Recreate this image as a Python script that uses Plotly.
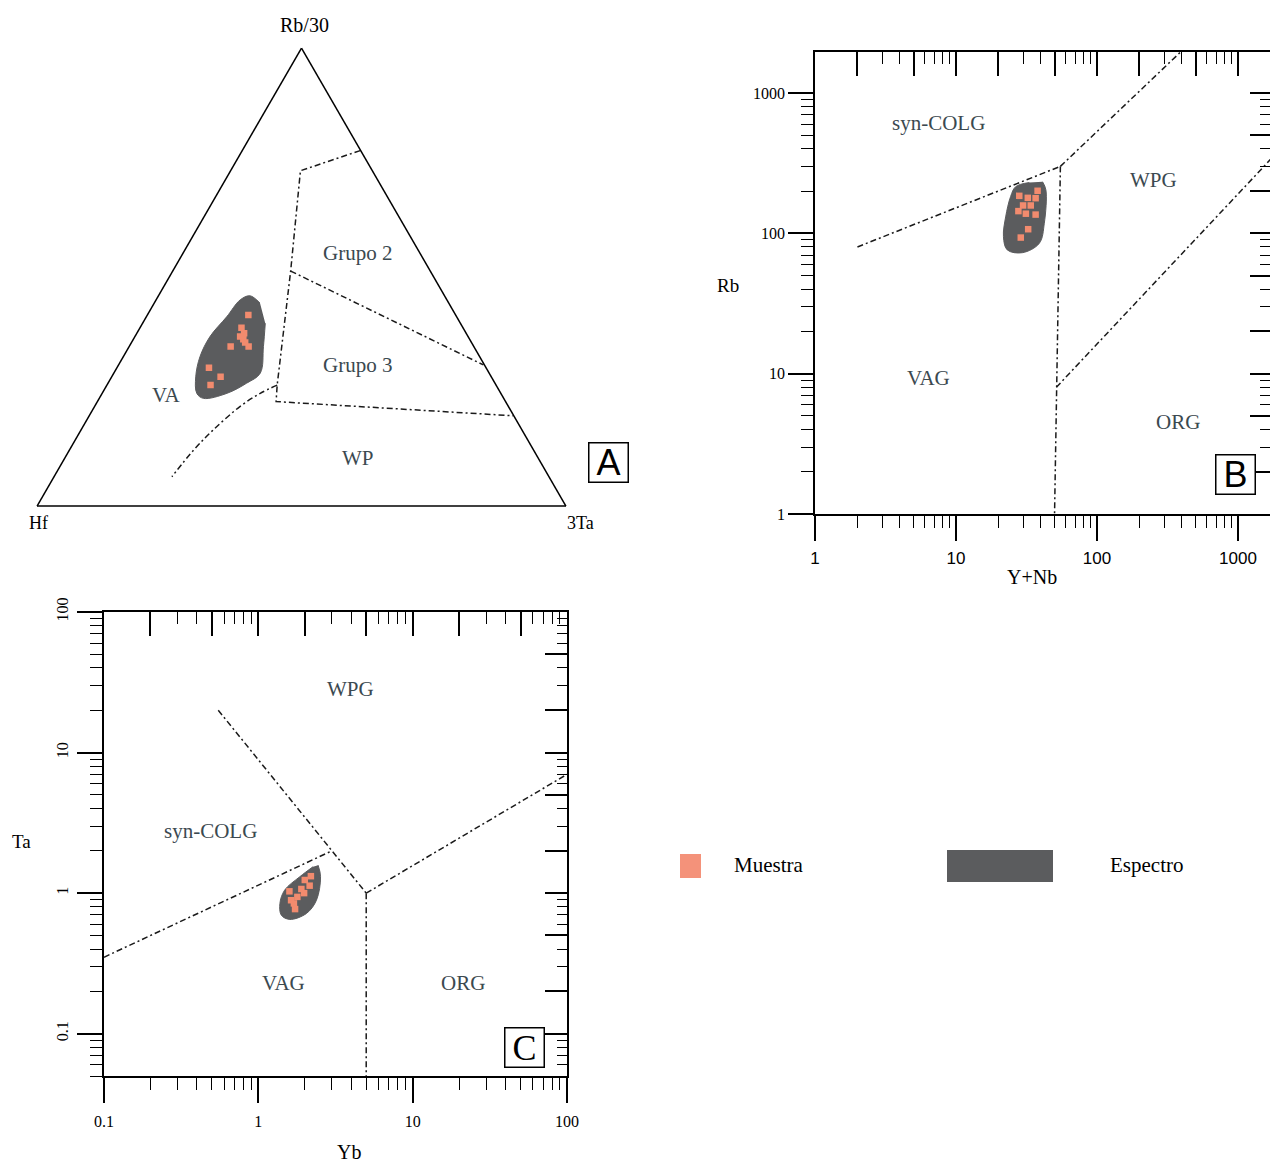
import plotly.graph_objects as go

W, H = 1270, 1162
def fx(p): return p / W
def fy(p): return 1 - p / H

# ---------------- Panel A (ternary: a = Rb/30, b = Hf, c = 3Ta) ----------------
A_line1_a = [0.776, 0.732, 0.513, 0.264, 0.228, 0.197]
A_line1_b = [0.001, 0.136, 0.264, 0.414, 0.434, 0.001]
A_line1_c = [0.223, 0.132, 0.223, 0.322, 0.338, 0.802]
A_line2_a = [0.513, 0.308]
A_line2_b = [0.264, 0.002]
A_line2_c = [0.223, 0.690]
A_line3_a = [0.264, 0.246, 0.217, 0.166, 0.122, 0.064]
A_line3_b = [0.414, 0.455, 0.508, 0.584, 0.643, 0.713]
A_line3_c = [0.322, 0.299, 0.275, 0.250, 0.235, 0.223]

A_blob_a = [0.399, 0.348, 0.290, 0.268, 0.246, 0.235, 0.246, 0.282, 0.326, 0.370, 0.413, 0.450, 0.459, 0.443]
A_blob_c = [0.232, 0.254, 0.277, 0.262, 0.236, 0.197, 0.179, 0.159, 0.145, 0.142, 0.152, 0.159, 0.173, 0.200]
A_blob_b = [round(1 - a - c, 3) for a, c in zip(A_blob_a, A_blob_c)]

A_pts_a = [0.417, 0.389, 0.377, 0.370, 0.364, 0.357, 0.348, 0.348, 0.302, 0.282, 0.264]
A_pts_c = [0.191, 0.192, 0.203, 0.199, 0.208, 0.215, 0.226, 0.192, 0.174, 0.206, 0.196]
A_pts_b = [round(1 - a - c, 3) for a, c in zip(A_pts_a, A_pts_c)]

# ---------------- Panel B (Rb vs Y+Nb) ----------------
B_syncolg_vag_x = [2, 55]
B_syncolg_vag_y = [80, 300]
B_wpg_syncolg_x = [55, 400]
B_wpg_syncolg_y = [300, 2000]
B_vertical_x = [55, 51.5, 50]
B_vertical_y = [300, 8, 1]
B_wpg_org_x = [51.5, 2000]
B_wpg_org_y = [8, 400]

B_blob_x = [41.1, 43.4, 42.3, 39.0, 29.6, 23.1, 21.7, 22.5, 24.4, 26.5, 33.1]
B_blob_y = [233, 204, 118, 85, 72.8, 76.2, 94.7, 131, 183, 215, 230]
B_pts_x = [28.1, 32.3, 37.9, 36.7, 29.9, 33.9, 27.7, 31.3, 36.7, 32.5, 28.8]
B_pts_y = [185, 179, 201, 178, 158, 158, 144, 138, 136, 107, 93.3]

# ---------------- Panel C (Ta vs Yb) ----------------
C_syncolg_vag_x = [0.1, 3]
C_syncolg_vag_y = [0.35, 2]
C_wpg_syncolg_x = [0.55, 3, 5]
C_wpg_syncolg_y = [20, 2, 1]
C_vag_org_x = [5, 5]
C_vag_org_y = [1, 0.05]
C_wpg_org_x = [5, 100]
C_wpg_org_y = [1, 7]

C_blob_x = [2.44, 2.53, 2.38, 2.05, 1.60, 1.41, 1.38, 1.48, 1.86, 2.26]
C_blob_y = [1.58, 1.31, 0.89, 0.717, 0.65, 0.697, 0.845, 1.05, 1.31, 1.54]
C_pts_x = [2.19, 2.00, 2.15, 1.90, 1.98, 1.59, 1.79, 1.63, 1.70, 1.73]
C_pts_y = [1.32, 1.24, 1.13, 1.07, 1.0, 1.03, 0.94, 0.89, 0.845, 0.77]

B_ticks = [1, 10, 100, 1000]
C_xticks = [0.1, 1, 10, 100]
C_yticks = [0.1, 1, 10, 100]

# ---------------- styles ----------------
SERIF = "Liberation Serif"
SANS = "Liberation Sans"
LABEL_COLOR = "#3b4950"
BLOB_COLOR = "#5b5c5e"
PT_COLOR = "#f28b6e"
DASH = dict(color="#1a1a1a", width=1.5, dash="6px,3px,2px,3px")
minor_vals = [d * 10 ** e for e in range(-2, 4) for d in range(2, 10)]

fig = go.Figure()

# --- ternary traces
for a, b, c in [(A_line1_a, A_line1_b, A_line1_c), (A_line2_a, A_line2_b, A_line2_c)]:
    fig.add_trace(go.Scatterternary(a=a, b=b, c=c, mode="lines", line=DASH,
                                    showlegend=False, hoverinfo="skip"))
fig.add_trace(go.Scatterternary(a=A_line3_a, b=A_line3_b, c=A_line3_c, mode="lines",
                                line=dict(DASH, shape="spline"), showlegend=False, hoverinfo="skip"))
fig.add_trace(go.Scatterternary(a=A_blob_a, b=A_blob_b, c=A_blob_c, mode="lines", fill="toself",
                                fillcolor=BLOB_COLOR, line=dict(color=BLOB_COLOR, width=1, shape="spline", smoothing=1),
                                showlegend=False, hoverinfo="skip"))
fig.add_trace(go.Scatterternary(a=A_pts_a, b=A_pts_b, c=A_pts_c, mode="markers",
                                marker=dict(symbol="square", size=6.5, color=PT_COLOR),
                                showlegend=False))

# --- panel B traces
for xs, ys in [(B_syncolg_vag_x, B_syncolg_vag_y), (B_wpg_syncolg_x, B_wpg_syncolg_y),
               (B_vertical_x, B_vertical_y), (B_wpg_org_x, B_wpg_org_y)]:
    fig.add_trace(go.Scatter(x=xs, y=ys, mode="lines", line=DASH, xaxis="x", yaxis="y",
                             showlegend=False, hoverinfo="skip"))
fig.add_trace(go.Scatter(x=B_blob_x, y=B_blob_y, mode="lines", fill="toself", fillcolor=BLOB_COLOR,
                         line=dict(color=BLOB_COLOR, width=1, shape="spline", smoothing=1),
                         xaxis="x", yaxis="y", showlegend=False, hoverinfo="skip"))
fig.add_trace(go.Scatter(x=B_pts_x, y=B_pts_y, mode="markers",
                         marker=dict(symbol="square", size=6.5, color=PT_COLOR),
                         xaxis="x", yaxis="y", showlegend=False))
fig.add_trace(go.Scatter(x=[10], y=[10], mode="markers", marker=dict(opacity=0), xaxis="x2", yaxis="y2",
                         showlegend=False, hoverinfo="skip"))

# --- panel C traces
for xs, ys in [(C_syncolg_vag_x, C_syncolg_vag_y), (C_wpg_syncolg_x, C_wpg_syncolg_y),
               (C_vag_org_x, C_vag_org_y), (C_wpg_org_x, C_wpg_org_y)]:
    fig.add_trace(go.Scatter(x=xs, y=ys, mode="lines", line=DASH, xaxis="x3", yaxis="y3",
                             showlegend=False, hoverinfo="skip"))
fig.add_trace(go.Scatter(x=C_blob_x, y=C_blob_y, mode="lines", fill="toself", fillcolor=BLOB_COLOR,
                         line=dict(color=BLOB_COLOR, width=1, shape="spline", smoothing=1),
                         xaxis="x3", yaxis="y3", showlegend=False, hoverinfo="skip"))
fig.add_trace(go.Scatter(x=C_pts_x, y=C_pts_y, mode="markers",
                         marker=dict(symbol="square", size=6.5, color=PT_COLOR),
                         xaxis="x3", yaxis="y3", showlegend=False))
fig.add_trace(go.Scatter(x=[1], y=[1], mode="markers", marker=dict(opacity=0), xaxis="x4", yaxis="y4",
                         showlegend=False, hoverinfo="skip"))


def logaxis(rng, domain, anchor, ticks, major_len, minor_len, vals=None, text=None, show=True,
            font=None, side=None, overlaying=None, angle=None, standoff=None):
    d = dict(type="log", range=rng, domain=domain, anchor=anchor, showline=True, linecolor="black",
             linewidth=1.5, ticks=ticks, ticklen=major_len, tickwidth=1.5, tickcolor="black",
             showgrid=False, zeroline=False, fixedrange=True, automargin=False,
             minor=dict(ticks=ticks, ticklen=minor_len, tickwidth=1.2, tickcolor="black",
                        tickmode="array", tickvals=minor_vals, showgrid=False),
             showticklabels=show)
    if vals is not None:
        d.update(tickmode="array", tickvals=vals, ticktext=text)
    if font:
        d["tickfont"] = font
    if side:
        d["side"] = side
    if overlaying:
        d["overlaying"] = overlaying
    if angle is not None:
        d["tickangle"] = angle
    if standoff is not None:
        d["ticklabelstandoff"] = standoff
    return d


Bx_dom = [fx(815), 1.0]
By_dom = [fy(514), fy(52)]
Cx_dom = [fx(104), fx(567)]
Cy_dom = [fy(1076), fy(612)]
Bx_rng = [0, 3.0 * (1270 - 815) / (1238 - 815)]
By_rng = [0, 3.0 * (514 - 52) / (514 - 93)]

tern_axis = dict(showticklabels=False, ticks="", showgrid=False, linecolor="black", linewidth=1.5,
                 min=0, title=dict(text=""))

fig.update_layout(
    width=W, height=H, margin=dict(l=0, r=0, t=0, b=0, pad=0, autoexpand=False),
    paper_bgcolor="white", plot_bgcolor="white",
    ternary=dict(domain=dict(x=[fx(37), fx(566)], y=[fy(506), fy(48)]), bgcolor="white",
                 aaxis=tern_axis, baxis=tern_axis, caxis=tern_axis),
    xaxis=logaxis(Bx_rng, Bx_dom, "y", "outside", 25, 12, B_ticks, [str(v) for v in B_ticks],
                  font=dict(family=SANS, size=17, color="black"), standoff=3),
    yaxis=logaxis(By_rng, By_dom, "x", "outside", 25, 12, B_ticks, [str(v) for v in B_ticks],
                  font=dict(family=SERIF, size=16, color="black"), standoff=0),
    xaxis2=logaxis(Bx_rng, Bx_dom, "y", "inside", 24, 12, show=False, side="top", overlaying="x"),
    yaxis2=logaxis(By_rng, By_dom, "x", "inside", 20, 10, show=False, side="right", overlaying="y"),
    xaxis3=logaxis([-1, 2], Cx_dom, "y3", "outside", 25, 12, C_xticks, ["0.1", "1", "10", "100"],
                   font=dict(family=SERIF, size=16, color="black"), standoff=5),
    yaxis3=logaxis([-1.301, 2], Cy_dom, "x3", "outside", 25, 12, C_yticks, ["0.1", "1", "10", "100"],
                   font=dict(family=SERIF, size=16, color="black"), angle=-90, standoff=3),
    xaxis4=logaxis([-1, 2], Cx_dom, "y3", "inside", 24, 12, show=False, side="top", overlaying="x3"),
    yaxis4=logaxis([-1.301, 2], Cy_dom, "x3", "inside", 22, 10, show=False, side="right", overlaying="y3"),
)

ann = []
def txt(x, y, s, size=21, color=LABEL_COLOR, family=SERIF):
    ann.append(dict(x=fx(x), y=fy(y), xref="paper", yref="paper", text=s, showarrow=False,
                    font=dict(family=family, size=size, color=color), xanchor="center", yanchor="middle"))

# panel A labels
txt(304, 25, "Rb/30", 20, "black")
txt(38, 523, "Hf", 18, "black")
txt(580, 523, "3Ta", 18, "black")
txt(357, 253, "Grupo 2", 21)
txt(357, 365, "Grupo 3", 21)
txt(166, 395, "VA", 21)
txt(358, 458, "WP", 21)
# panel B labels
txt(728, 285, "Rb", 19, "black")
txt(1032, 577, "Y+Nb", 20, "black")
txt(938, 123, "syn-COLG", 21)
txt(1153, 180, "WPG", 21)
txt(928, 378, "VAG", 21)
txt(1178, 422, "ORG", 21)
# panel C labels
txt(21, 841, "Ta", 19, "black")
txt(349, 1152, "Yb", 20, "black")
txt(351, 689, "WPG", 21)
txt(210, 831, "syn-COLG", 21)
txt(283, 983, "VAG", 21)
txt(463, 983, "ORG", 21)
# legend text
txt(768, 865, "Muestra", 21, "black")
txt(1146, 865, "Espectro", 21, "black")

# panel letter boxes
for cx, cy, s, fam in [(608.5, 462, "A", SANS), (1235, 474, "B", SANS), (524.5, 1047, "C", SERIF)]:
    ann.append(dict(x=fx(cx), y=fy(cy), xref="paper", yref="paper", text=s, showarrow=False,
                    font=dict(family=fam, size=36, color="black"), xanchor="center", yanchor="middle",
                    bordercolor="black", borderwidth=1.5, borderpad=0, bgcolor="white",
                    width=38, height=38, valign="middle"))

fig.update_layout(annotations=ann)

# legend swatches
fig.add_shape(type="rect", xref="paper", yref="paper", x0=fx(680), x1=fx(701), y0=fy(878), y1=fy(854),
              fillcolor="#f4927a", line=dict(width=0))
fig.add_shape(type="rect", xref="paper", yref="paper", x0=fx(947), x1=fx(1053), y0=fy(882), y1=fy(850),
              fillcolor=BLOB_COLOR, line=dict(width=0))

fig.write_html("out.html")
